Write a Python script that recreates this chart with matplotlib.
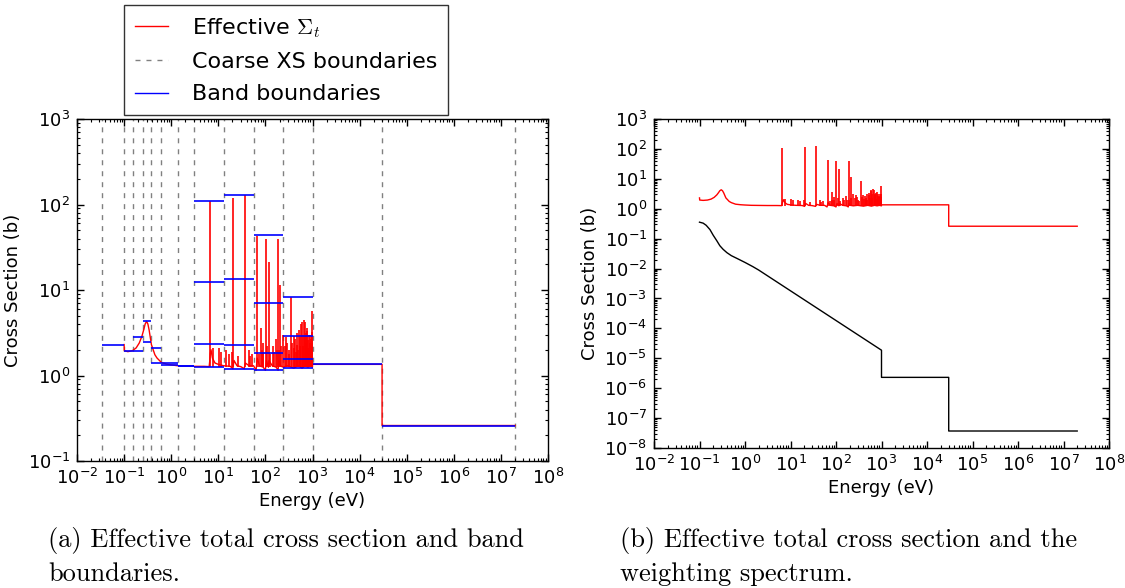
import numpy as np
import matplotlib
matplotlib.use('Agg')
import matplotlib.pyplot as plt
from matplotlib.ticker import LogLocator, NullFormatter, LogFormatterSciNotation
from matplotlib.lines import Line2D

plt.rcParams['font.family'] = ['DejaVu Sans']
plt.rcParams['mathtext.fontset'] = 'cm'

# ---------------- data ----------------
coarse_edges = [0.034, 0.1, 0.156, 0.25, 0.38, 0.62, 1.38, 3.1, 13.0, 56.0, 240.0, 1000.0, 3.0e4, 2.0e7]
band_bounds = [
    [2.26],
    [1.92],
    [1.95, 2.84],
    [2.48, 4.36],
    [1.41, 2.09],
    [1.32, 1.41],
    [1.29, 1.30],
    [1.27, 2.35, 12.5, 110.0],
    [1.20, 2.29, 13.6, 130.0],
    [1.15, 1.85, 6.98, 43.7],
    [1.21, 1.54, 2.92, 8.28],
    [1.35],
    [0.26],
]

xs_E = [0.1, 0.101, 0.12, 0.15, 0.18, 0.21, 0.24, 0.26, 0.28, 0.30, 0.32, 0.34, 0.38,
        0.45, 0.5, 0.62, 0.8, 1.0, 1.38, 2.0, 3.1, 5.0, 6.4, 6.6, 6.75, 7.0, 7.5, 8.5,
        10.0, 13.0, 18.0, 20.4, 21.5, 25.0, 30.0, 35.5, 37.5, 45.0, 56.0, 63.5, 67.0,
        75.0, 90.0, 100.0, 105.0, 116.0, 119.0, 140.0, 170.0, 186.0, 192.0, 205.0,
        240.0, 300.0, 400.0, 500.0, 600.0, 700.0, 800.0, 900.0, 999.0, 1000.0,
        3.0e4, 3.0e4, 2.0e7]
xs_val = [2.3, 1.95, 1.9, 1.95, 2.1, 2.4, 2.9, 3.4, 4.0, 4.3, 4.0, 3.4, 2.3,
          1.75, 1.6, 1.42, 1.36, 1.33, 1.30, 1.29, 1.28, 1.28, 1.27, 1.5, 1.8, 2.0, 1.6, 1.4,
          1.35, 1.3, 1.28, 1.2, 1.5, 1.3, 1.27, 1.2, 1.4, 1.3, 1.3, 1.15, 1.6,
          1.3, 1.25, 1.15, 1.5, 1.25, 1.5, 1.3, 1.25, 1.15, 1.5, 1.3,
          1.25, 1.3, 1.22, 1.3, 1.22, 1.3, 1.25, 1.3, 1.25, 1.35,
          1.35, 0.26, 0.26]

spike_E = [6.67, 7.6, 10.2, 11.3, 14.5, 16.5, 19.5, 20.9, 26.5, 36.7, 44.5, 48.0, 52.0,
           66.0, 72.5, 80.7, 83.5, 89.2, 91.0, 102.5, 108.0, 116.9, 125.0, 146.0, 152.0,
           165.3, 175.0, 189.7, 195.0, 208.5, 218.0, 237.4, 264.0, 273.6, 291.0, 311.0,
           320.0, 347.8, 376.0, 398.0, 411.0, 434.0, 454.0, 463.0, 478.0, 490.0, 518.0,
           535.0, 555.0, 581.0, 594.0, 619.0, 629.0, 662.0, 694.0, 708.0, 721.0, 730.0,
           765.0, 782.0, 792.0, 821.0, 850.0, 856.0, 867.0, 905.0, 937.0, 958.0, 980.0, 992.0]
spike_peak = [110.0, 2.1, 2.1, 1.9, 2.0, 1.8, 1.9, 120.0, 1.7, 130.0, 2.0, 1.7, 1.8,
              43.0, 1.8, 3.6, 2.0, 2.4, 1.9, 40.0, 2.2, 21.0, 1.8, 2.2, 1.9,
              2.7, 2.0, 40.0, 2.0, 11.5, 2.2, 3.0, 2.2, 2.8, 2.4, 2.0,
              1.8, 8.3, 2.4, 2.9, 2.1, 2.7, 1.9, 2.3, 3.1, 2.0, 3.4,
              2.8, 2.2, 4.0, 4.2, 3.0, 2.2, 4.4, 4.2, 2.9, 3.1, 2.4,
              3.3, 3.6, 2.1, 2.6, 3.0, 2.0, 2.4, 3.0, 2.7, 3.2, 2.4, 5.7]
spike_base = 1.27

w_E = [0.1, 0.12, 0.14, 0.17, 0.2, 0.24, 0.28, 0.33, 0.4, 0.5, 0.7, 1.0, 1.5, 2.0,
       1000.0, 1000.0, 3.0e4, 3.0e4, 2.0e7]
w_val = [0.355, 0.33, 0.28, 0.2, 0.13, 0.085, 0.058, 0.044, 0.034, 0.027, 0.021, 0.016,
         0.0115, 0.0089, 1.86e-5, 2.3e-6, 2.3e-6, 3.7e-8, 3.7e-8]

x_ticks = [1e-2, 1e-1, 1e0, 1e1, 1e2, 1e3, 1e4, 1e5, 1e6, 1e7, 1e8]
yl_ticks = [1e-1, 1e0, 1e1, 1e2, 1e3]
yr_ticks = [1e-8, 1e-7, 1e-6, 1e-5, 1e-4, 1e-3, 1e-2, 1e-1, 1e0, 1e1, 1e2, 1e3]

RED = '#ff0000'
BLUE = '#0000ff'
GRAY = '#808080'

fig = plt.figure(figsize=(11.25, 5.88), dpi=100)
axL = fig.add_axes([77/1125, 1-461/588, 471/1125, 342/588])
axR = fig.add_axes([654/1125, 1-448/588, 455/1125, 329/588])


def style_axis(ax, yticks):
    ax.set_xscale('log')
    ax.set_yscale('log')
    ax.set_xticks(x_ticks)
    ax.set_yticks(yticks)
    ax.xaxis.set_major_formatter(LogFormatterSciNotation())
    ax.yaxis.set_major_formatter(LogFormatterSciNotation())
    ax.xaxis.set_minor_locator(LogLocator(base=10, subs=np.arange(2, 10), numticks=100))
    ax.yaxis.set_minor_locator(LogLocator(base=10, subs=np.arange(2, 10), numticks=100))
    ax.xaxis.set_minor_formatter(NullFormatter())
    ax.yaxis.set_minor_formatter(NullFormatter())
    ax.tick_params(which='both', direction='in', top=True, right=True, labelsize=13)
    ax.tick_params(which='major', length=5, width=1, pad=5)
    ax.tick_params(which='minor', length=2.5, width=0.8)
    ax.set_xlabel('Energy (eV)', fontsize=13, labelpad=3)
    ax.set_ylabel('Cross Section (b)', fontsize=13, labelpad=4)
    for s in ax.spines.values():
        s.set_linewidth(1)


# ---------- left panel ----------
for e in coarse_edges:
    axL.axvline(e, color=GRAY, lw=1, dashes=(3.6, 4.3), zorder=1)
axL.plot(xs_E, xs_val, color=RED, lw=1, zorder=2)
axL.vlines(spike_E, spike_base, spike_peak, color=RED, lw=1.2, zorder=2)
for i, vals in enumerate(band_bounds):
    axL.hlines(vals, coarse_edges[i], coarse_edges[i + 1], color=BLUE, lw=1.2, zorder=3)
axL.set_xlim(1e-2, 1e8)
axL.set_ylim(1e-1, 1e3)
style_axis(axL, yl_ticks)

# ---------- right panel ----------
axR.plot(xs_E, xs_val, color=RED, lw=1, zorder=2)
axR.vlines(spike_E, spike_base, spike_peak, color=RED, lw=1.2, zorder=2)
axR.plot(w_E, w_val, color='black', lw=1, zorder=2)
axR.set_xlim(1e-2, 1e8)
axR.set_ylim(1e-8, 1e3)
style_axis(axR, yr_ticks)

# ---------- legend ----------
handles = [Line2D([], [], color=RED, lw=1),
           Line2D([], [], color=GRAY, lw=1, dashes=(3.6, 4.3)),
           Line2D([], [], color=BLUE, lw=1)]
labels = ['Effective $\\Sigma_t$', 'Coarse XS boundaries', 'Band boundaries']
leg = fig.legend(handles, labels, loc='upper left', bbox_to_anchor=(124/1125, 1-5/588),
                 borderaxespad=0, fontsize=16, frameon=True, fancybox=False,
                 edgecolor='black', handlelength=1.5, handletextpad=1.05,
                 labelspacing=0.55, borderpad=0.5)
leg.get_frame().set_linewidth(1)

# ---------- captions ----------
cap_kw = dict(fontsize=19, family='cmr10', ha='left', va='center')
fig.text(48/1125, 1-541/588, '(a) Effective total cross section and band', **cap_kw)
fig.text(48/1125, 1-574/588, 'boundaries.', **cap_kw)
fig.text(620/1125, 1-541/588, '(b) Effective total cross section and the', **cap_kw)
fig.text(620/1125, 1-574/588, 'weighting spectrum.', **cap_kw)

fig.savefig('out.png', dpi=100)
